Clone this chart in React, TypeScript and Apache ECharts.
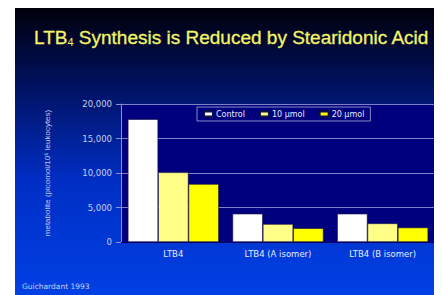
import React, { useEffect, useRef } from "react";
import * as echarts from "echarts";

const categories = ["LTB4", "LTB4 (A isomer)", "LTB4 (B isomer)"];
const seriesNames = ["Control", "10 µmol", "20 µmol"];
const control = [17800, 4100, 4100];
const umol10 = [10100, 2600, 2700];
const umol20 = [8400, 2000, 2100];
const yTicks = [0, 5000, 10000, 15000, 20000];

const colors = ["#ffffff", "#ffff88", "#ffff00"];

export default function App() {
  const ref = useRef<HTMLDivElement>(null);
  useEffect(() => {
    if (!ref.current) return;
    const chart = echarts.init(ref.current, undefined, { renderer: "svg" });
    const values = [control, umol10, umol20];
    chart.setOption({
      animation: false,
      backgroundColor: {
        type: "linear",
        x: 0,
        y: 0,
        x2: 0,
        y2: 1,
        colorStops: [
          { offset: 0, color: "#00000a" },
          { offset: 0.25, color: "#000f5a" },
          { offset: 0.6, color: "#002ec4" },
          { offset: 1, color: "#0040e4" },
        ],
      },
      title: {
        text: "{a|LTB}{s|4}{a| Synthesis is Reduced by Stearidonic Acid}",
        left: 14,
        top: 9,
        textStyle: {
          fontWeight: "normal",
          rich: {
            a: {
              color: "#f4f466",
              fontSize: 19,
              fontWeight: "normal",
              fontFamily: "Liberation Sans, Arial, sans-serif",
              lineHeight: 25,
              verticalAlign: "bottom",
              textBorderColor: "#f4f466",
              textBorderWidth: 0.3,
            },
            s: {
              color: "#f4f466",
              fontSize: 11,
              fontWeight: "normal",
              fontFamily: "Liberation Sans, Arial, sans-serif",
              lineHeight: 19,
              verticalAlign: "bottom",
            },
          },
        },
      },
      graphic: [
        {
          type: "text",
          left: 7,
          top: 274,
          style: {
            text: "Guichardant 1993",
            fill: "#c8d4f4",
            fontSize: 7.5,
            fontFamily: "DejaVu Sans, sans-serif",
          },
        },
      ],
      legend: {
        left: 182,
        top: 99,
        data: seriesNames,
        icon: "rect",
        itemWidth: 9,
        itemHeight: 5,
        itemGap: 14,
        padding: [3, 6],
        borderColor: "#8888c8",
        borderWidth: 1,
        backgroundColor: "#00007e",
        textStyle: {
          color: "#e8ecff",
          fontSize: 8,
          fontFamily: "DejaVu Sans, sans-serif",
          padding: [0, 0, 0, -2],
        },
      },
      grid: {
        left: 106,
        right: 7,
        top: 96,
        bottom: 53,
        show: true,
        backgroundColor: "#00007e",
        borderWidth: 0,
      },
      xAxis: {
        type: "category",
        data: categories,
        axisLine: { show: true, lineStyle: { color: "#000060" } },
        axisTick: { show: false },
        axisLabel: {
          color: "#e8ecff",
          fontSize: 8.5,
          fontFamily: "DejaVu Sans, sans-serif",
          margin: 7,
        },
      },
      yAxis: {
        type: "value",
        min: 0,
        max: 20000,
        interval: 5000,
        name: "metabolite (picomol/10⁶ leukocytes)",
        nameLocation: "middle",
        nameGap: 70,
        nameTextStyle: {
          color: "#c0c8ee",
          fontSize: 8,
          fontFamily: "Liberation Sans, Arial, sans-serif",
        },
        axisLine: { show: true, lineStyle: { color: "#9090d0" } },
        axisTick: { show: true, length: 5, lineStyle: { color: "#9090d0" } },
        splitLine: { show: true, lineStyle: { color: "#8080c4", width: 1 } },
        axisLabel: {
          color: "#c8d0f0",
          fontSize: 8.5,
          fontFamily: "DejaVu Sans, sans-serif",
          margin: 9,
          formatter: (v: number) =>
            yTicks.includes(v) ? v.toLocaleString("en-US") : "",
        },
      },
      series: seriesNames.map((name, i) => ({
        name,
        type: "bar",
        data: values[i],
        barGap: "0%",
        barCategoryGap: "13%",
        itemStyle: {
          color: colors[i],
          borderColor: "#101040",
          borderWidth: 0.6,
        },
      })),
    });
    return () => chart.dispose();
  }, []);
  return <div ref={ref} style={{ marginLeft: 7, width: 427, height: 287 }} />;
}
